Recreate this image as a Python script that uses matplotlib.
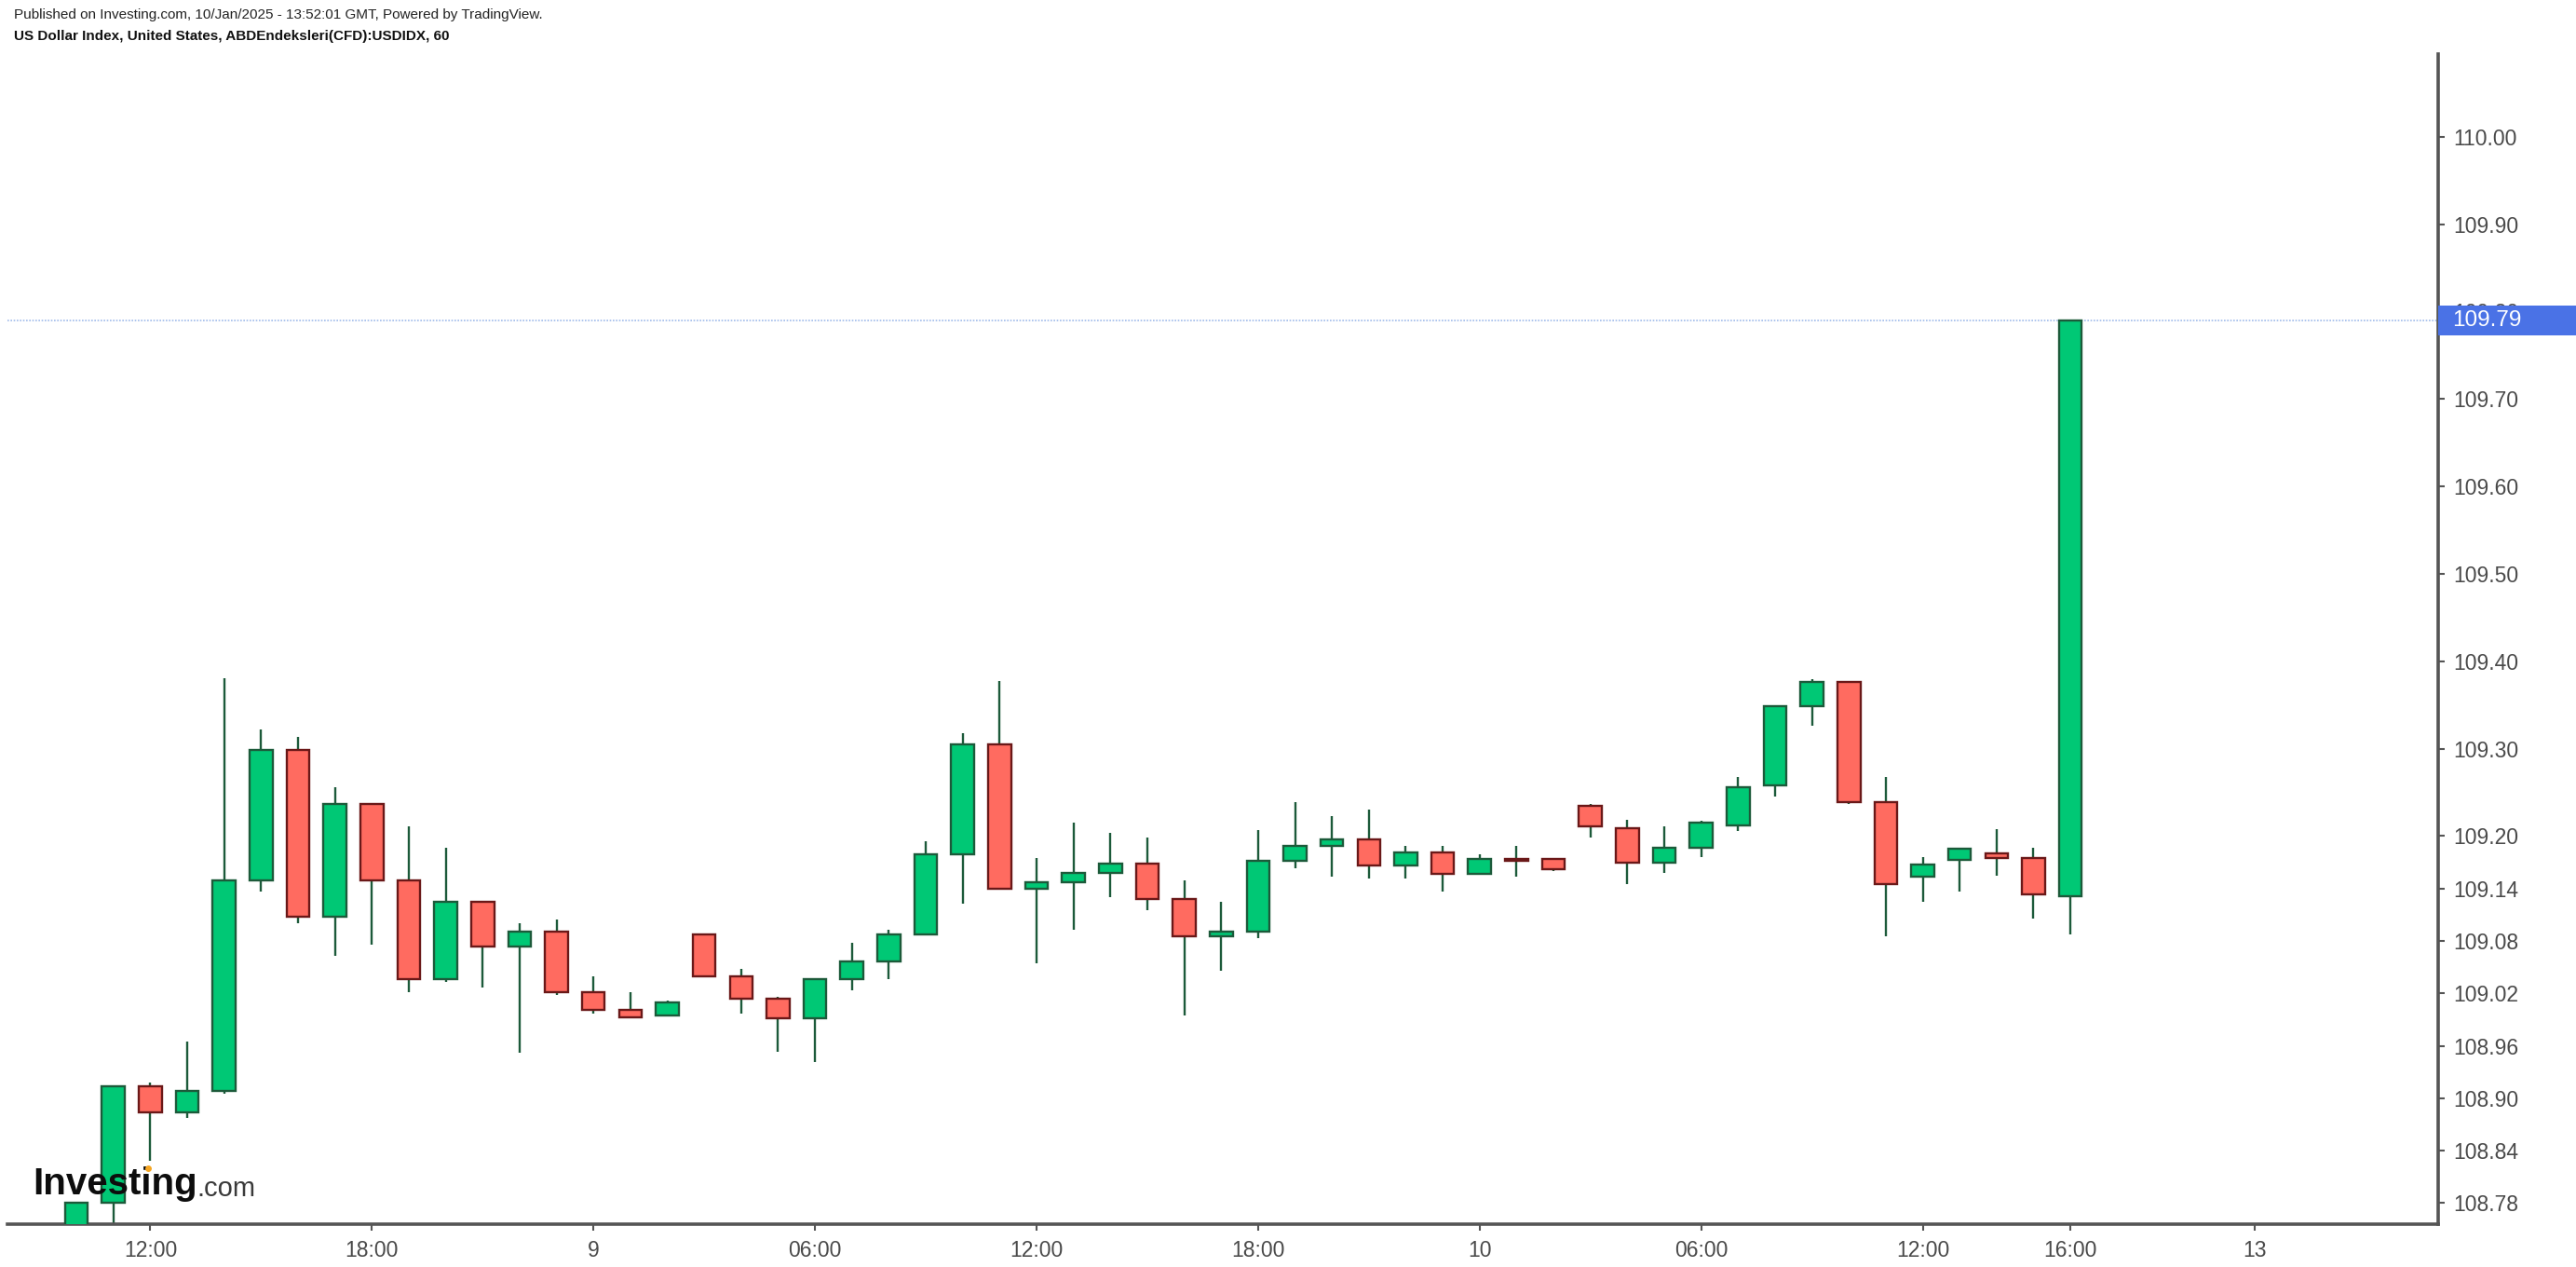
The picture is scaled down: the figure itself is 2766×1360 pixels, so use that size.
import matplotlib
matplotlib.use("Agg")
import matplotlib.pyplot as plt
from matplotlib.patches import Rectangle
import matplotlib.transforms as mtransforms

plt.rcParams['font.family'] = ['Liberation Sans', 'DejaVu Sans']

# hourly bars, 10:00 Jan 8 -> 16:00 Jan 10 (GMT)
opens = [108.74, 108.78, 108.914, 108.884, 108.908, 109.149, 109.298, 109.108, 109.237, 109.149,
         109.036, 109.125, 109.074, 109.091, 109.021, 109.001, 108.995, 109.087, 109.040, 109.014,
         108.991, 109.036, 109.057, 109.087, 109.179, 109.305, 109.140, 109.147, 109.158, 109.168,
         109.128, 109.085, 109.091, 109.172, 109.189, 109.196, 109.166, 109.181, 109.157, 109.174,
         109.174, 109.234, 109.209, 109.170, 109.187, 109.212, 109.258, 109.348, 109.376, 109.239,
         109.154, 109.173, 109.180, 109.175, 109.131]
highs = [108.78, 108.915, 108.918, 108.965, 109.380, 109.322, 109.313, 109.256, 109.237, 109.211,
         109.187, 109.125, 109.100, 109.104, 109.040, 109.021, 109.012, 109.089, 109.048, 109.016,
         109.036, 109.078, 109.093, 109.194, 109.318, 109.377, 109.175, 109.215, 109.204, 109.198,
         109.149, 109.125, 109.207, 109.239, 109.223, 109.230, 109.189, 109.189, 109.179, 109.189,
         109.174, 109.237, 109.219, 109.211, 109.217, 109.268, 109.348, 109.379, 109.376, 109.268,
         109.176, 109.187, 109.208, 109.187, 109.790]
lows = [108.73, 108.755, 108.828, 108.877, 108.905, 109.136, 109.100, 109.063, 109.076, 109.021,
        109.033, 109.027, 108.952, 109.018, 108.997, 108.991, 108.995, 109.040, 108.997, 108.953,
        108.941, 109.023, 109.036, 109.087, 109.123, 109.140, 109.054, 109.093, 109.130, 109.115,
        108.995, 109.046, 109.083, 109.163, 109.153, 109.151, 109.151, 109.136, 109.157, 109.153,
        109.160, 109.198, 109.145, 109.158, 109.176, 109.206, 109.245, 109.326, 109.237, 109.085,
        109.125, 109.136, 109.155, 109.106, 109.087]
closes = [108.78, 108.914, 108.884, 108.908, 109.149, 109.298, 109.108, 109.237, 109.149, 109.036,
          109.125, 109.074, 109.091, 109.021, 109.001, 108.993, 109.010, 109.040, 109.014, 108.991,
          109.036, 109.057, 109.087, 109.179, 109.305, 109.140, 109.147, 109.158, 109.168, 109.128,
          109.085, 109.091, 109.172, 109.189, 109.196, 109.166, 109.181, 109.157, 109.174, 109.172,
          109.162, 109.211, 109.170, 109.187, 109.215, 109.256, 109.348, 109.376, 109.239, 109.145,
          109.167, 109.186, 109.175, 109.133, 109.790]

last_price = 109.79

x_tick_bars = [2, 8, 14, 20, 26, 32, 38, 44, 50, 54, 59]
x_tick_labels = ['12:00', '18:00', '9', '06:00', '12:00', '18:00', '10', '06:00', '12:00', '16:00', '13']
y_ticks = [108.78, 108.84, 108.90, 108.96, 109.02, 109.08, 109.14, 109.20, 109.30, 109.40,
           109.50, 109.60, 109.70, 109.80, 109.90, 110.00]

up_fill, up_edge = '#00c875', '#1c5a3a'
dn_fill, dn_edge = '#ff6b60', '#6a1818'
wick_col = '#1c5a3a'
axis_col = '#555555'

W, H = 2766, 1360
fig = plt.figure(figsize=(W / 100, H / 100), dpi=100)
ax = fig.add_axes([8 / W, 46 / H, (2618 - 8) / W, (1314 - 58) / H])

xs = list(range(len(opens)))
ax.vlines(xs, lows, highs, color=wick_col, lw=1.7, zorder=2)
for i in xs:
    o, c = opens[i], closes[i]
    up = c >= o
    bottom = min(o, c)
    height = max(abs(c - o), 0.002)
    ax.bar(i, height, bottom=bottom, width=0.62,
           color=up_fill if up else dn_fill,
           edgecolor=up_edge if up else dn_edge, linewidth=1.7, zorder=3)

ax.axhline(last_price, color='#9fbbea', lw=1.2, ls=(0, (1, 1)), zorder=1)

ax.set_xlim(-1.87, 63.96)
ax.set_ylim(108.756, 110.0945)

ax.yaxis.tick_right()
ax.set_yticks(y_ticks)
ax.set_yticklabels(['%.2f' % v for v in y_ticks])
ax.set_xticks(x_tick_bars)
ax.set_xticklabels(x_tick_labels)
ax.tick_params(axis='both', colors=axis_col, labelcolor='#4a4a4a', labelsize=16.5,
               length=5, width=1.5)
ax.tick_params(axis='y', pad=7)
ax.tick_params(axis='x', pad=7)

for side in ['top', 'left']:
    ax.spines[side].set_visible(False)
for side in ['right', 'bottom']:
    ax.spines[side].set_color(axis_col)
    ax.spines[side].set_linewidth(2.6)

# last price tag on the axis
trans = mtransforms.blended_transform_factory(ax.transAxes, ax.transData)
ax.add_patch(Rectangle((1.0, last_price - 0.017), 0.06, 0.034, transform=trans,
                       facecolor='#4a72e6', edgecolor='none', clip_on=False, zorder=10))
ax.text(1.0 + 0.0058, last_price, '%.2f' % last_price, transform=trans,
        color='white', fontsize=17.5, va='center', ha='left', zorder=11, clip_on=False)

fig.text(15 / W, 1 - 16 / H, 'Published on Investing.com, 10/Jan/2025 - 13:52:01 GMT, Powered by TradingView.',
         fontsize=11, color='#222222', va='center', ha='left')
fig.text(15 / W, 1 - 39 / H, 'US Dollar Index, United States, ABDEndeksleri(CFD):USDIDX, 60',
         fontsize=11, color='#111111', fontweight='bold', va='center', ha='left')

# watermark logo
logo = ax.text(0.0103, 0.0255, 'Investing', transform=ax.transAxes, fontsize=29,
               fontweight='bold', color='#0d0d0d', va='baseline', ha='left', zorder=12)
ax.annotate('.com', xy=(1, 0), xycoords=logo, fontsize=21, color='#3a3a3a',
            va='bottom', ha='left', zorder=12)
ax.plot([0.0579], [0.0478], transform=ax.transAxes, marker='o', ms=5,
        color='#f5a623', mec='none', zorder=13, clip_on=False)

fig.savefig('out.png', dpi=100, facecolor='white')
